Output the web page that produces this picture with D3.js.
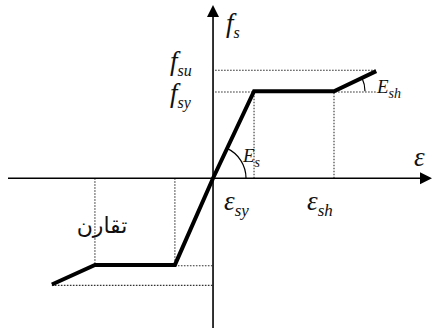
<!DOCTYPE html>
<html><head><meta charset="utf-8">
<script src="https://cdn.jsdelivr.net/npm/d3@7"></script>
<style>
html,body{margin:0;padding:0;background:#fff;}
svg{display:block;}
text{font-family:"Liberation Serif","Times New Roman",serif;font-style:italic;fill:#111;}
</style></head>
<body><svg id="c" width="433" height="328"></svg>
<script>
// Idealised steel stress-strain curve (normalised units)
const strain = [-3.93, -2.88, -0.93, 0, 1, 2.95, 3.98];
const stress = [-1.22, -0.995, -0.995, 0, 1, 1, 1.23];
const fsu = 1.24, fsy = 0.99;
const negFsu = -1.24, negFsy = -1.0;
const strainLabels = [{sym:"ε", sub:"sy", v:1, dx:-30}, {sym:"ε", sub:"sh", v:2.95, dx:-27}];
const arabicLabel = "تقارن";

const svg = d3.select("#c");
const x = d3.scaleLinear().domain([-5, 5.34]).range([8, 432]);
const y = d3.scaleLinear().domain([-1.72, 1.99]).range([328, 5]);
const pts = strain.map((s,i)=>[s, stress[i]]);

const dot = {stroke:"#333", w:1.1, dash:"1.6,1.4"};
function dline(x1,y1,x2,y2){
  svg.append("line").attr("x1",x(x1)).attr("y1",y(y1)).attr("x2",x(x2)).attr("y2",y(y2))
    .attr("stroke",dot.stroke).attr("stroke-width",dot.w).attr("stroke-dasharray",dot.dash);
}
// dotted guide lines
dline(0.05, fsu, strain[6], fsu);
dline(0.05, fsy, strain[6], fsy);
dline(strain[4], 0, strain[4], fsy);
dline(strain[5], 0, strain[5], fsy);
dline(strain[1], 0, strain[1], stress[1]);
dline(strain[2], 0, strain[2], stress[2]);
dline(strain[2], stress[2]-0.01, -0.02, stress[2]-0.01);
dline(strain[0], negFsu+0.01, -0.02, negFsu+0.01);

// axes
svg.append("line").attr("x1",x(-5)).attr("x2",x(5.34)-11).attr("y1",y(0)).attr("y2",y(0))
  .attr("stroke","#000").attr("stroke-width",1.6);
svg.append("line").attr("x1",x(0)).attr("x2",x(0)).attr("y1",y(-1.72)).attr("y2",y(1.99)+11)
  .attr("stroke","#000").attr("stroke-width",1.6);
svg.append("path").attr("d",`M${x(5.34)},${y(0)} l-12,-6 l0,12 Z`).attr("fill","#000");
svg.append("path").attr("d",`M${x(0)},${y(1.99)} l-6,12 l12,0 Z`).attr("fill","#000");

// curve
svg.append("path").datum(pts)
  .attr("d", d3.line().x(d=>x(d[0])).y(d=>y(d[1])))
  .attr("fill","none").attr("stroke","#000").attr("stroke-width",4).attr("stroke-linejoin","miter");

// angle arcs
function angleArc(cx,cy,r,a0,a1){
  const arc = d3.arc().innerRadius(r).outerRadius(r).startAngle(a0).endAngle(a1);
  svg.append("path").attr("d",arc()).attr("transform",`translate(${cx},${cy})`)
    .attr("fill","none").attr("stroke","#000").attr("stroke-width",1.2);
}
const angEs = Math.atan2(y(0)-y(stress[4]), x(strain[4])-x(0));
angleArc(x(0), y(0), 33, Math.PI/2 - angEs, Math.PI/2);
const angSh = Math.atan2(y(stress[5])-y(stress[6]), x(strain[6])-x(strain[5]));
angleArc(x(strain[5]), y(stress[5]), 31, Math.PI/2 - angSh, Math.PI/2);

// labels
function lab(px,py,main,sub,fs,sfs){
  const t = svg.append("text").attr("x",px).attr("y",py).attr("font-size",fs);
  t.append("tspan").text(main);
  if(sub) t.append("tspan").attr("font-size",sfs).attr("dy",fs*0.24).text(sub);
}
lab(226, 32, "f", "s", 27, 16);
lab(170, 70, "f", "su", 27, 16);
lab(170, 102, "f", "sy", 27, 16);
lab(377, 93, "E", "sh", 19, 14);
lab(243, 162, "E", "s", 19, 14);
lab(414, 166, "ε", null, 27, 0);
strainLabels.forEach(d=>{
  lab(x(d.v)+d.dx, 210, d.sym, d.sub, 27, 17);
});
svg.append("text").attr("x",102).attr("y",233).attr("text-anchor","middle")
  .attr("font-size",22).style("font-style","normal").attr("fill","#444")
  .style("font-family","'Noto Sans','DejaVu Sans',sans-serif")
  .text(arabicLabel);
</script></body></html>
